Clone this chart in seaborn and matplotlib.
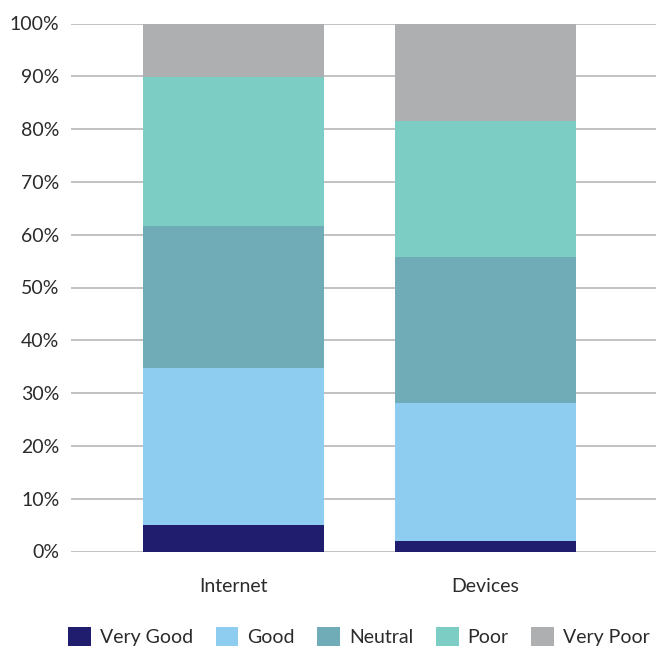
import numpy as np
import pandas as pd
import matplotlib
matplotlib.use("Agg")
import matplotlib.pyplot as plt
from matplotlib.patches import Patch
from matplotlib.ticker import PercentFormatter
import seaborn as sns

# Data (percent of responses)
groups = ["Internet", "Devices"]
ratings = ["Very Good", "Good", "Neutral", "Poor", "Very Poor"]
internet = [5.0, 29.8, 26.9, 28.1, 10.2]
devices = [1.9, 26.3, 27.6, 25.7, 18.5]
colors = ["#201c6e", "#8ecdf0", "#70acb8", "#7ccdc3", "#aeafb1"]

sns.set_theme(style="white")
plt.rcParams["font.family"] = ["Lato", "DejaVu Sans"]

df = pd.DataFrame({"Internet": internet, "Devices": devices}, index=ratings)
cum = df.cumsum()

fig = plt.figure(figsize=(6.56, 6.48), dpi=100)
ax = fig.add_axes([71 / 656, 96.5 / 648, 1 - 71 / 656, 528 / 648])

# draw cumulative totals, tallest first, so each segment shows its own colour
for rating, col in reversed(list(zip(ratings, colors))):
    sns.barplot(x=groups, y=cum.loc[rating, groups].values, color=col,
                width=0.72, saturation=1, linewidth=0, edgecolor="none",
                ax=ax, zorder=2)

ax.set_xlim(-0.645, 1.677)
ax.set_ylim(0, 100)
ax.set_yticks(np.arange(0, 101, 10))
ax.yaxis.set_major_formatter(PercentFormatter(decimals=0))
ax.grid(axis="y", color="#bdbdbd", linewidth=1.3, zorder=0)
ax.set_axisbelow(True)
for s in ax.spines.values():
    s.set_visible(False)
ax.tick_params(axis="y", length=0, pad=8.4, labelsize=14, labelcolor="#2b2b2b")
ax.tick_params(axis="x", length=0, pad=19, labelsize=14, labelcolor="#2b2b2b")
ax.set_xlabel("")
ax.set_ylabel("")

handles = [Patch(facecolor=c, edgecolor="none") for c in colors]
fig.legend(handles, ratings, loc="lower center", bbox_to_anchor=(359 / 656, -0.012),
           ncol=5, frameon=False, fontsize=14, handlelength=1.18, handleheight=1.08,
           handletextpad=0.46, columnspacing=1.15, borderpad=0.0,
           labelcolor="#2b2b2b")

fig.savefig("out.png", dpi=100)
